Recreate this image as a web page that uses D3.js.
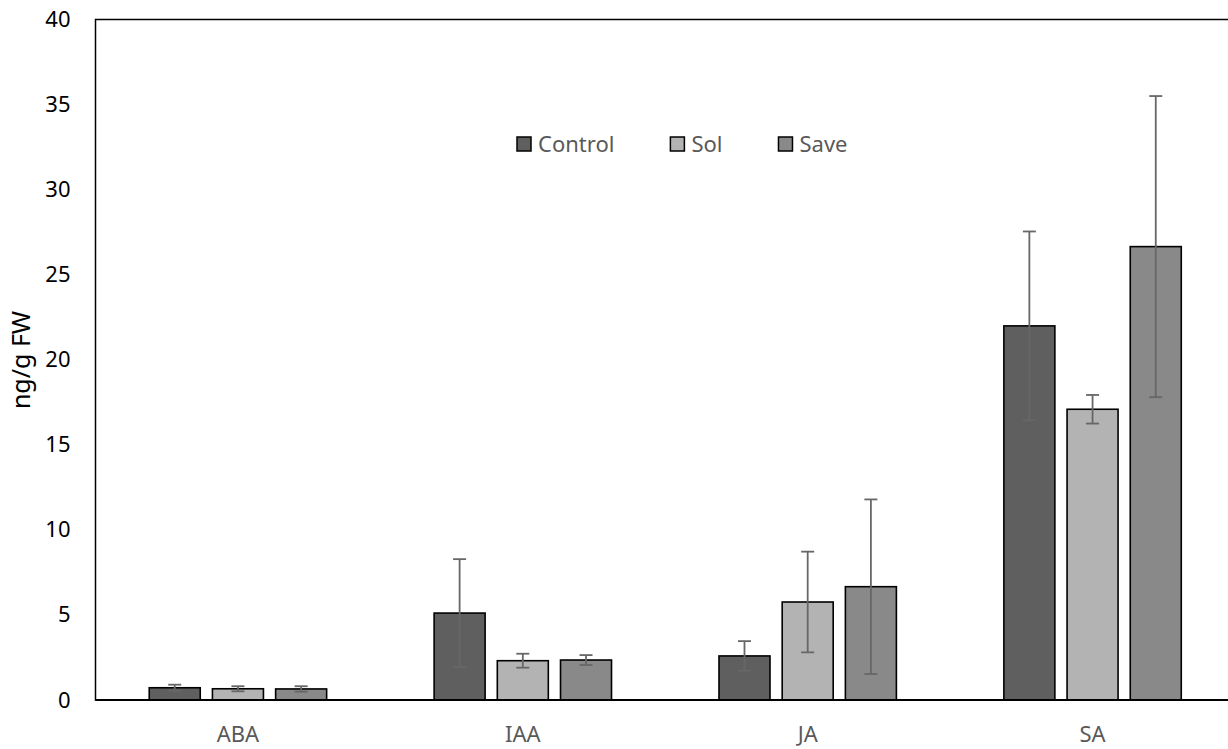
<!DOCTYPE html>
<html>
<head>
<meta charset="utf-8">
<script src="https://cdn.jsdelivr.net/npm/d3@7"></script>
<style>
  html, body { margin: 0; padding: 0; background: #fff; }
  svg { display: block; font-family: "Noto Sans", "Open Sans", sans-serif; }
</style>
</head>
<body>
<svg id="chart" width="1228" height="749"></svg>
<script>
// Hormone content (ng/g FW) by treatment
const categories = ["ABA", "IAA", "JA", "SA"];
const seriesNames = ["Control", "Sol", "Save"];
const controlValues = [0.72, 5.11, 2.59, 21.99];
const controlErrors = [0.18, 3.17, 0.87, 5.55];
const solValues = [0.66, 2.31, 5.76, 17.09];
const solErrors = [0.15, 0.41, 2.96, 0.84];
const saveValues = [0.65, 2.35, 6.66, 26.65];
const saveErrors = [0.16, 0.29, 5.13, 8.85];
const yTicks = [0, 5, 10, 15, 20, 25, 30, 35, 40];
const yTitle = "ng/g FW";

const seriesColors = { Control: "#5f5f5f", Sol: "#b3b3b3", Save: "#898989" };

const seriesData = [
  { name: "Control", values: controlValues, errors: controlErrors },
  { name: "Sol", values: solValues, errors: solErrors },
  { name: "Save", values: saveValues, errors: saveErrors }
];

const svg = d3.select("#chart");
const plot = { left: 95.5, right: 1235, top: 19.5, bottom: 700 };

const x0 = d3.scaleBand().domain(categories).range([plot.left, plot.right]).padding(0);
const groupInset = (x0.bandwidth() - 177.4) / 2;
const x1 = d3.scaleBand().domain(seriesNames)
  .range([groupInset, x0.bandwidth() - groupInset])
  .paddingInner(0.193).paddingOuter(0);
const y = d3.scaleLinear().domain([0, 40]).range([plot.bottom, plot.top]);

// plot area frame (top and left edges visible; right edge runs past the page)
svg.append("rect")
  .attr("x", plot.left).attr("y", plot.top)
  .attr("width", plot.right - plot.left).attr("height", plot.bottom - plot.top)
  .attr("fill", "none").attr("stroke", "#000").attr("stroke-width", 1.5);

// y axis labels
const yAxis = d3.axisLeft(y).tickValues(yTicks).tickSize(0).tickPadding(25);
const gy = svg.append("g").attr("transform", `translate(${plot.left},0)`).call(yAxis);
gy.select(".domain").remove();
gy.selectAll("text")
  .attr("font-size", 22).attr("fill", "#000")
  .attr("font-family", "Noto Sans, Open Sans, sans-serif");

// y axis title
svg.append("text")
  .attr("transform", `translate(30,360) rotate(-90)`)
  .attr("text-anchor", "middle")
  .attr("font-size", 25)
  .attr("fill", "#000")
  .text(yTitle);

// bars
const groups = svg.append("g").selectAll("g")
  .data(categories)
  .join("g")
  .attr("transform", d => `translate(${x0(d)},0)`);

groups.each(function (cat, ci) {
  const g = d3.select(this);
  seriesData.forEach(s => {
    const v = s.values[ci];
    g.append("rect")
      .attr("x", x1(s.name))
      .attr("y", y(v))
      .attr("width", x1.bandwidth())
      .attr("height", y(0) - y(v))
      .attr("fill", seriesColors[s.name])
      .attr("stroke", "#000")
      .attr("stroke-width", 1.6);
  });
  // error bars
  seriesData.forEach(s => {
    const v = s.values[ci], e = s.errors[ci];
    const cx = x1(s.name) + x1.bandwidth() / 2;
    const eg = g.append("g").attr("stroke", "#676767").attr("stroke-width", 1.8);
    eg.append("line").attr("x1", cx).attr("x2", cx).attr("y1", y(v + e)).attr("y2", y(v - e));
    eg.append("line").attr("x1", cx - 6.5).attr("x2", cx + 6.5).attr("y1", y(v + e)).attr("y2", y(v + e));
    eg.append("line").attr("x1", cx - 6.5).attr("x2", cx + 6.5).attr("y1", y(v - e)).attr("y2", y(v - e));
  });
});

// x axis line
svg.append("line")
  .attr("x1", plot.left).attr("x2", plot.right)
  .attr("y1", y(0)).attr("y2", y(0))
  .attr("stroke", "#000").attr("stroke-width", 2.2);

// category labels
const xAxis = d3.axisBottom(x0).tickSize(0).tickPadding(26);
const gx = svg.append("g").attr("transform", `translate(0,${plot.bottom})`).call(xAxis);
gx.select(".domain").remove();
gx.selectAll("text")
  .attr("font-size", 22).attr("fill", "#595959")
  .attr("font-family", "Noto Sans, Open Sans, sans-serif");

// legend
const legend = svg.append("g");
let lx = 517;
seriesNames.forEach(name => {
  legend.append("rect")
    .attr("x", lx).attr("y", 137)
    .attr("width", 14).attr("height", 14)
    .attr("fill", seriesColors[name])
    .attr("stroke", "#000").attr("stroke-width", 1.5);
  const t = legend.append("text")
    .attr("x", lx + 21).attr("y", 144)
    .attr("dy", "0.35em")
    .attr("font-size", 22)
    .attr("fill", "#595959")
    .text(name);
  lx += 21 + t.node().getComputedTextLength() + 56;
});
</script>
</body>
</html>
